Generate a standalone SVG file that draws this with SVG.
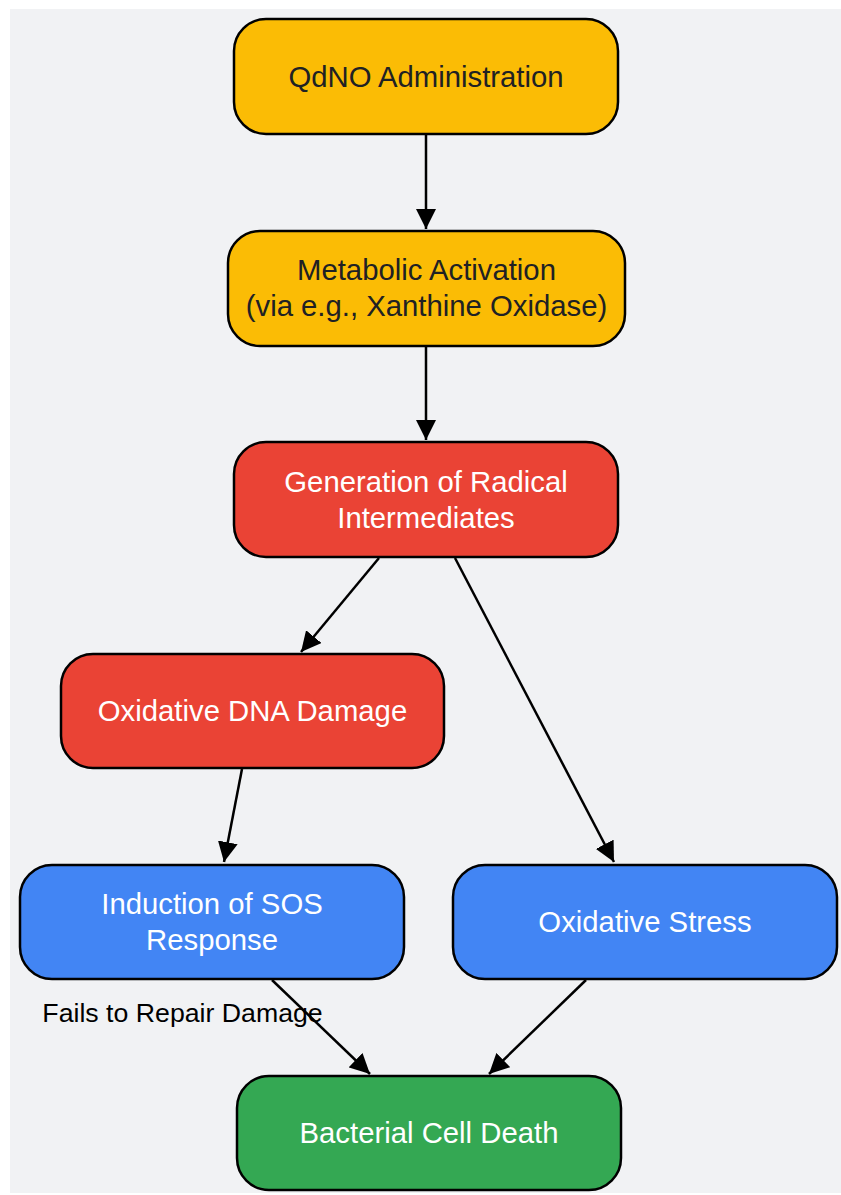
<svg xmlns="http://www.w3.org/2000/svg" width="841" height="1195" viewBox="0 0 841 1195">
<style>
.n{stroke:#000;stroke-width:2.5}
.y{fill:#FBBC05}.r{fill:#EA4335}.b{fill:#4285F4}.g{fill:#34A853}
.t{font-family:"Liberation Sans",Arial,sans-serif;font-size:29.3px;text-anchor:middle}
.dk{fill:#202124}.wt{fill:#ffffff}
.e{stroke:#000;stroke-width:2.5;fill:none;marker-end:url(#ah)}
.lbl{font-family:"Liberation Sans",Arial,sans-serif;font-size:26.7px;text-anchor:middle;fill:#000}
</style>
<defs>
<marker id="ah" viewBox="0 0 10 10" refX="10" refY="5" markerWidth="8" markerHeight="8" markerUnits="strokeWidth" orient="auto">
<path d="M0,0 L10,5 L0,10 z" fill="#000"/>
</marker>
</defs>
<rect x="10" y="9" width="831" height="1184" fill="#F1F2F4"/>
<g id="edges">
<line class="e" x1="426" y1="135" x2="426" y2="229"/>
<line class="e" x1="426" y1="346" x2="426" y2="440"/>
<line class="e" x1="379" y1="558" x2="301" y2="652"/>
<line class="e" x1="455" y1="558" x2="614" y2="862"/>
<line class="e" x1="242" y1="769" x2="224" y2="862"/>
<line class="e" x1="586" y1="980" x2="489" y2="1074"/>
<line class="e" x1="272" y1="980" x2="370" y2="1074"/>
<text class="lbl" x="182.5" y="1022">Fails to Repair Damage</text>
</g>
<g id="n1"><rect class="n y" x="234" y="19" width="384" height="115" rx="32"/><text class="t dk" x="426" y="87">QdNO Administration</text></g>
<g id="n2"><rect class="n y" x="228" y="231" width="397" height="115" rx="32"/><text class="t dk" x="426.5" y="280">Metabolic Activation</text><text class="t dk" x="426.5" y="316">(via e.g., Xanthine Oxidase)</text></g>
<g id="n3"><rect class="n r" x="234" y="442" width="384" height="115" rx="32"/><text class="t wt" x="426" y="492">Generation of Radical</text><text class="t wt" x="426" y="528">Intermediates</text></g>
<g id="n4"><rect class="n r" x="61" y="654" width="383" height="114" rx="32"/><text class="t wt" x="252.5" y="721">Oxidative DNA Damage</text></g>
<g id="n5"><rect class="n b" x="20" y="865" width="384" height="114" rx="32"/><text class="t wt" x="212" y="914">Induction of SOS</text><text class="t wt" x="212" y="950">Response</text></g>
<g id="n6"><rect class="n b" x="453" y="865" width="384" height="114" rx="32"/><text class="t wt" x="645" y="932">Oxidative Stress</text></g>
<g id="n7"><rect class="n g" x="237" y="1076" width="384" height="114" rx="32"/><text class="t wt" x="429" y="1143">Bacterial Cell Death</text></g>
</svg>
